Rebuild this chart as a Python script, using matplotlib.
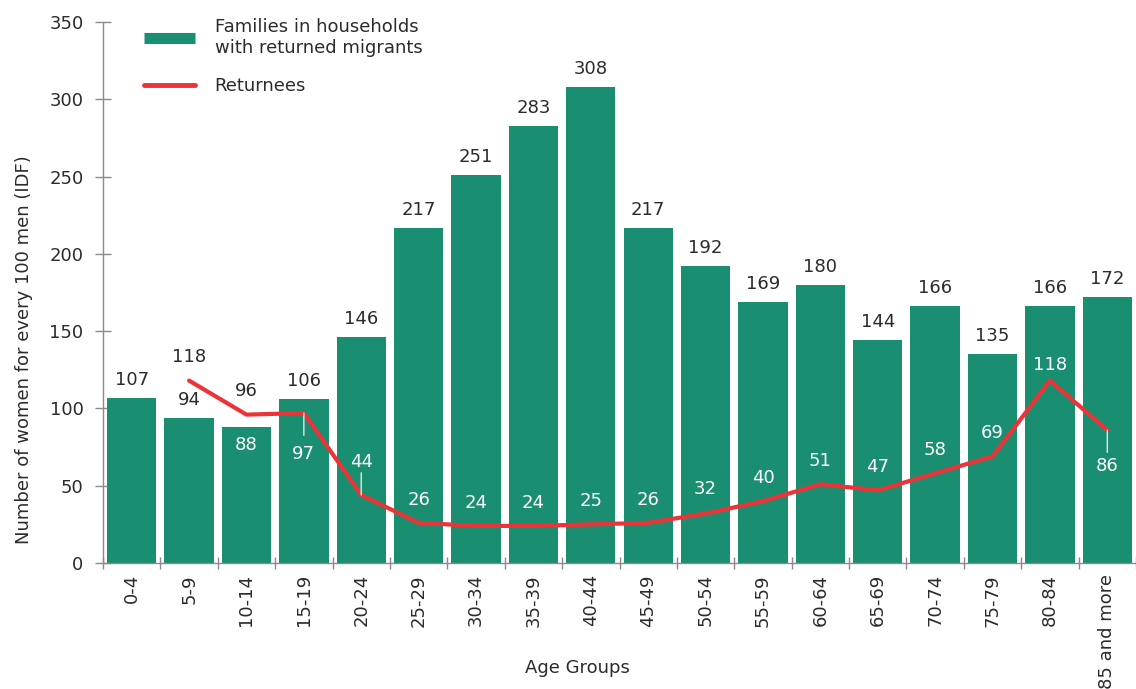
import numpy as np
import matplotlib.pyplot as plt
from matplotlib.lines import Line2D

age_groups = ['0-4', '5-9', '10-14', '15-19', '20-24', '25-29', '30-34', '35-39',
              '40-44', '45-49', '50-54', '55-59', '60-64', '65-69', '70-74',
              '75-79', '80-84', '85 and more']
families = [107, 94, 88, 106, 146, 217, 251, 283, 308, 217, 192, 169, 180,
            144, 166, 135, 166, 172]
# returnees start at 5-9 (no value for 0-4)
returnees = [118, 96, 97, 44, 26, 24, 24, 25, 26, 32, 40, 51, 47, 58, 69, 118, 86]

green = '#1a8e71'
red = '#ee3338'
dark = '#2b2b2b'
grey = '#8a8a8a'
fs = 13

plt.rcParams['font.family'] = 'DejaVu Sans'

fig = plt.figure(figsize=(11.36, 6.89), dpi=100)
ax = fig.add_axes([103 / 1136, 1 - 563 / 689, 1033 / 1136, 541 / 689])

x = np.arange(len(age_groups))
ax.bar(x, families, width=0.86, color=green, zorder=2)

xr = x[1:]
ax.plot(xr, returnees, color=red, lw=3, zorder=3, solid_capstyle='round',
        solid_joinstyle='round')

# bar value labels (10-14 sits inside the bar, under the returnee label)
for i, v in enumerate(families):
    if age_groups[i] == '10-14':
        ax.annotate(str(v), (i, v), xytext=(0, -13), textcoords='offset points',
                    ha='center', va='center', fontsize=fs, color='white', zorder=4)
    else:
        ax.annotate(str(v), (i, v), xytext=(0, 13), textcoords='offset points',
                    ha='center', va='center', fontsize=fs, color=dark, zorder=4)

# returnee labels: vertical offset in points, colour, leader line length
line_offsets = [17, 17, -29.5, 24, 16.5, 16.5, 16.5, 17, 16.5, 18, 17, 16.5,
                16.5, 16.5, 16.5, 11, -26]
line_colors = [dark, dark] + ['white'] * 15
leaders = {2: -16, 3: 16, 16: -16}
for k, (xi, v) in enumerate(zip(xr, returnees)):
    ax.annotate(str(v), (xi, v), xytext=(0, line_offsets[k]), textcoords='offset points',
                ha='center', va='center', fontsize=fs, color=line_colors[k], zorder=5)
    if k in leaders:
        ax.annotate('', xy=(xi, v), xytext=(0, leaders[k]), textcoords='offset points',
                    arrowprops=dict(arrowstyle='-', color='#e6e6e6', lw=1,
                                    shrinkA=0, shrinkB=0), zorder=4)

ax.set_xlim(-0.5, len(age_groups) - 0.5)
ax.set_ylim(0, 350)
ax.set_yticks(np.arange(0, 351, 50))
ax.set_xticks(x)
ax.set_xticklabels(age_groups, rotation=90)
ax.set_xticks(np.arange(-0.5, len(age_groups), 1), minor=True)

ax.tick_params(axis='x', which='major', length=0, pad=8, labelsize=fs, labelcolor=dark)
ax.tick_params(axis='x', which='minor', direction='inout', length=8, color=grey, width=1)
ax.tick_params(axis='y', direction='inout', length=12, color=grey, width=1,
               labelsize=fs, labelcolor=dark, pad=8)

for s in ['top', 'right']:
    ax.spines[s].set_visible(False)
for s in ['left', 'bottom']:
    ax.spines[s].set_color(grey)
    ax.spines[s].set_linewidth(1)

ax.set_ylabel('Number of women for every 100 men (IDF)', fontsize=fs, color=dark)
ax.yaxis.set_label_coords(-70 / 1033, 0.395)
ax.set_xlabel('Age Groups', fontsize=fs, color=dark)
ax.xaxis.set_label_coords(474 / 1033, -96 / 541)

handles = [Line2D([], [], color=green, lw=8, solid_capstyle='butt'),
           Line2D([], [], color=red, lw=3.5, solid_capstyle='round')]
ax.legend(handles, ['Families in households\nwith returned migrants', 'Returnees'],
          loc='upper left', bbox_to_anchor=(128 / 1136, 1 - 2 / 689),
          bbox_transform=fig.transFigure, frameon=False, fontsize=fs,
          handlelength=2.8, handletextpad=1.1, labelspacing=1.1, labelcolor=dark)

fig.savefig('out.png', dpi=100)
